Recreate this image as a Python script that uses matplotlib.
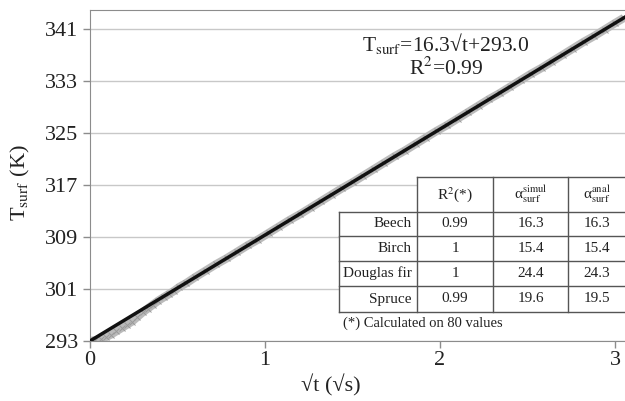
import numpy as np
import matplotlib.pyplot as plt
from matplotlib.patches import Rectangle
from matplotlib.lines import Line2D

plt.rcParams['font.family'] = ['Liberation Serif', 'DejaVu Serif']
plt.rcParams['mathtext.fontset'] = 'stix'

# surface temperature vs sqrt(time), beech
sqrt_t = [0.00, 0.03, 0.06, 0.09, 0.12, 0.15, 0.18, 0.21, 0.24, 0.27, 0.30, 0.33,
          0.36, 0.39, 0.42, 0.45, 0.48, 0.51, 0.55, 0.60, 0.66, 0.72, 0.78, 0.84,
          0.90, 0.96, 1.02, 1.08, 1.14, 1.20, 1.26, 1.32, 1.38, 1.44, 1.50, 1.56,
          1.62, 1.68, 1.74, 1.80, 1.86, 1.92, 1.98, 2.04, 2.10, 2.16, 2.22, 2.28,
          2.34, 2.40, 2.46, 2.52, 2.58, 2.64, 2.70, 2.76, 2.82, 2.88, 2.94, 3.00, 3.05]
T_surf = [293.0, 293.1, 293.3, 293.6, 294.0, 294.5, 295.0, 295.5, 296.0, 296.7, 297.4, 298.0,
          298.6, 299.2, 299.7, 300.2, 300.7, 301.3, 301.9, 302.8, 303.8, 304.8, 305.7, 306.7,
          307.7, 308.6, 309.6, 310.6, 311.6, 312.5, 313.5, 314.5, 315.5, 316.5, 317.4, 318.4,
          319.4, 320.4, 321.4, 322.3, 323.3, 324.3, 325.3, 326.2, 327.2, 328.2, 329.2, 330.2,
          331.1, 332.1, 333.1, 334.1, 335.0, 336.0, 337.0, 338.0, 339.0, 339.9, 340.9, 341.9, 342.7]

fit_slope = 16.3
fit_intercept = 293.0
fit_range = [0.0, 3.06]

y_ticks = [293, 301, 309, 317, 325, 333, 341]
x_ticks = [0, 1, 2, 3]

species = ["Beech", "Birch", "Douglas fir", "Spruce"]
r2 = ["0.99", "1", "1", "0.99"]
alpha_simul = ["16.3", "15.4", "24.4", "19.6"]
alpha_anal = ["16.3", "15.4", "24.3", "19.5"]

W, H = 625, 401
fig = plt.figure(figsize=(6.25, 4.01), dpi=100)
ax = fig.add_axes([90 / W, 1 - 341 / H, (W - 90) / W, (341 - 10) / H])

ax.set_xlim(0, (W - 90) / 175)
ax.set_ylim(293, 293 + (341 - 10) / 6.5)
ax.set_xticks(x_ticks)
ax.set_yticks(y_ticks)
ax.grid(axis='y', color='#c8c8c8', lw=1)
ax.set_axisbelow(True)
for s in ['left', 'bottom', 'top']:
    ax.spines[s].set_color('#8c8c8c')
ax.spines['right'].set_visible(False)
ax.tick_params(colors='#8c8c8c', labelcolor='#222222', labelsize=16, length=5, width=1)
ax.tick_params(axis='x', pad=2)

# data band
ax.plot(sqrt_t, T_surf, color='#bbbbbb', lw=6, zorder=2, solid_capstyle='butt')
ax.plot(sqrt_t, T_surf, ls='none', marker='x', ms=4, mew=0.7, color='#999999', zorder=2)
# fit line
fx = np.array(fit_range)
ax.plot(fx, fit_slope * fx + fit_intercept, color='#111111', lw=2.5, zorder=3)

fig.text(331 / W, 1 - 385 / H, '√t (√s)', ha='center', va='center', fontsize=16, color='#222222')
fig.text(20 / W, 1 - 183 / H, r'T$_{\mathrm{surf}}$ (K)', ha='center', va='center',
         rotation=90, fontsize=16, color='#222222')

fig.text(446 / W, 1 - 44 / H, r'T$_{\mathrm{surf}}$=16.3√t+293.0', ha='center', va='center',
         fontsize=15.5, color='#222222')
fig.text(446 / W, 1 - 69 / H, r'R$^2$=0.99', ha='center', va='center', fontsize=15.5, color='#222222')

# table drawn in pixel coordinates
def fx_(x):
    return x / W

def fy_(y):
    return 1 - y / H

cols = [339, 417, 493, 568, 640]
rows = [177, 212, 236, 261, 286, 312]
lc = '#555555'
fig.add_artist(Rectangle((fx_(cols[1]), fy_(rows[0]) - (rows[1] - rows[0]) / H),
                         (cols[4] - cols[1]) / W, (rows[1] - rows[0]) / H,
                         transform=fig.transFigure, facecolor='white', edgecolor='none', zorder=4))
fig.add_artist(Rectangle((fx_(cols[0]), fy_(rows[5])), (cols[4] - cols[0]) / W,
                         (rows[5] - rows[1]) / H, transform=fig.transFigure,
                         facecolor='white', edgecolor='none', zorder=4))
fig.add_artist(Rectangle((fx_(300), fy_(333)), (W - 300) / W, 20 / H, transform=fig.transFigure,
                         facecolor='white', edgecolor='none', zorder=4))

def hline(y, x0, x1):
    fig.add_artist(Line2D([fx_(x0), fx_(x1)], [fy_(y), fy_(y)], color=lc, lw=1, zorder=5))

def vline(x, y0, y1):
    fig.add_artist(Line2D([fx_(x), fx_(x)], [fy_(y0), fy_(y1)], color=lc, lw=1, zorder=5))

hline(rows[0], cols[1], cols[4])
for y in rows[1:]:
    hline(y, cols[0], cols[4])
vline(cols[0], rows[1], rows[5])
for x in cols[1:4]:
    vline(x, rows[0], rows[5])

tk = dict(ha='center', va='center', fontsize=11, color='#222222', zorder=6)
hy = (rows[0] + rows[1]) / 2
fig.text(fx_((cols[1] + cols[2]) / 2), fy_(hy), r'R$^2$(*)', **tk)
fig.text(fx_((cols[2] + cols[3]) / 2), fy_(hy), r'α$_{\mathrm{surf}}^{\mathrm{simul}}$', **tk)
fig.text(fx_((cols[3] + 625) / 2), fy_(hy), r'α$_{\mathrm{surf}}^{\mathrm{anal}}$', **tk)
for i, name in enumerate(species):
    cy = (rows[i + 1] + rows[i + 2]) / 2
    fig.text(fx_(cols[1] - 5), fy_(cy), name, ha='right', va='center', fontsize=11,
             color='#222222', zorder=6)
    fig.text(fx_((cols[1] + cols[2]) / 2), fy_(cy), r2[i], **tk)
    fig.text(fx_((cols[2] + cols[3]) / 2), fy_(cy), alpha_simul[i], **tk)
    fig.text(fx_((cols[3] + 625) / 2), fy_(cy), alpha_anal[i], **tk)
fig.text(fx_(343), fy_(323), '(*) Calculated on 80 values', ha='left', va='center',
         fontsize=10.5, color='#222222', zorder=6)

fig.savefig('out.png', dpi=100)
